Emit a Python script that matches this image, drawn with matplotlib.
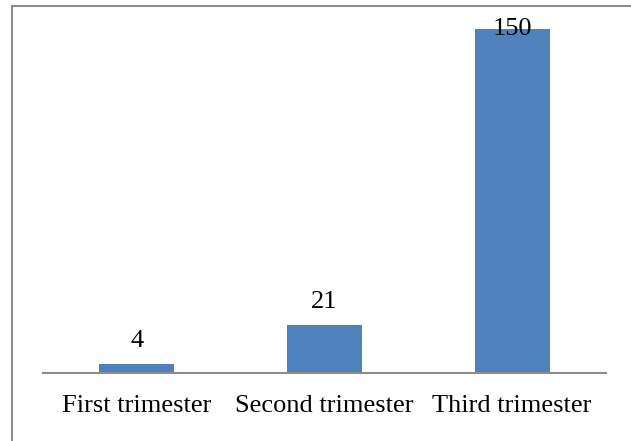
import matplotlib.pyplot as plt
from matplotlib.lines import Line2D

categorie = ['First trimester', 'Second trimester', 'Third trimester']
valori = [4, 21, 150]

plt.rcParams['font.family'] = ['Liberation Serif', 'DejaVu Serif']

fig = plt.figure(figsize=(6.31, 4.41), dpi=100)
ax = fig.add_axes([43 / 631, 68 / 441, 563 / 631, 367 / 441])

x = range(len(categorie))
ax.bar(x, valori, width=0.4, color='#4F81BD')
ax.set_xlim(-0.5, 2.5)
ax.set_ylim(0, 160)

# etichette dei valori, quella piu' alta resta dentro il grafico
for i, v in enumerate(valori):
    ax.text(i, min(v + 9.8, 150), str(v), ha='center', va='center', fontsize=19)

ax.set_xticks(list(x))
ax.set_xticklabels(categorie, fontsize=19)
ax.tick_params(axis='x', length=0, pad=16)
ax.set_yticks([])
for s in ['top', 'right', 'left']:
    ax.spines[s].set_visible(False)
ax.spines['bottom'].set_color('#8c8c8c')
ax.spines['bottom'].set_linewidth(1.5)

# cornice esterna
fig.add_artist(Line2D([11.5 / 631, 11.5 / 631], [0, 1 - 5.5 / 441], transform=fig.transFigure, color='#8c8c8c', lw=1.5))
fig.add_artist(Line2D([11.5 / 631, 1], [1 - 5.5 / 441, 1 - 5.5 / 441], transform=fig.transFigure, color='#8c8c8c', lw=1.5))

fig.savefig('out.png', dpi=100)
